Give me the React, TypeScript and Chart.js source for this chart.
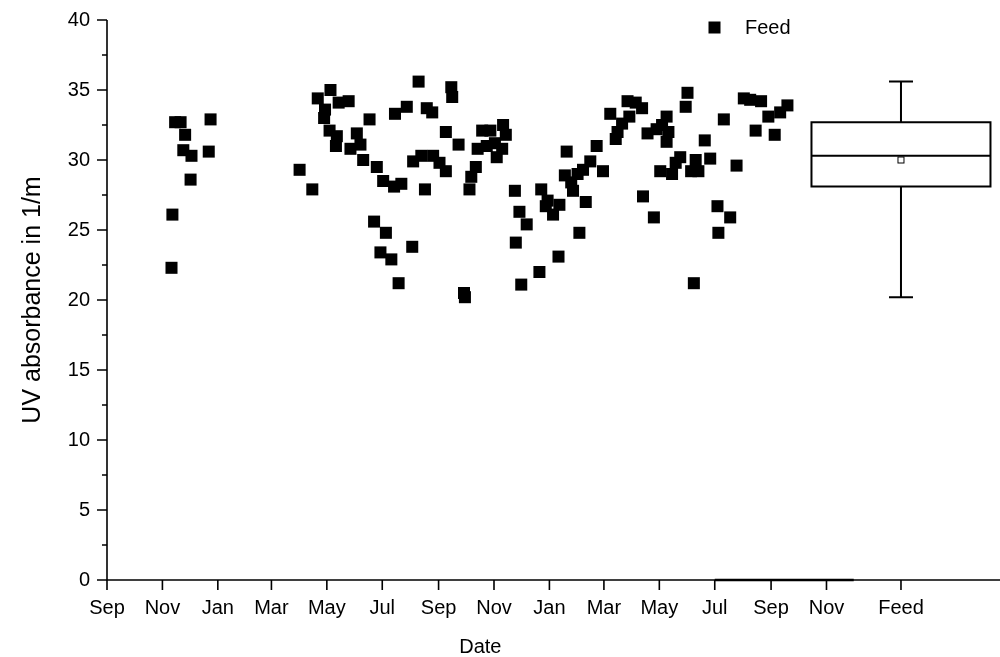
import React, { useEffect, useRef } from 'react';
import { Chart, registerables } from 'chart.js';

Chart.register(...registerables);

// ---------- data ----------
const START_DATE = '2006-09-01';

// sampling day, counted in days since START_DATE
const sampleDays = [
  71, 72, 75, 81, 84, 86, 92, 93, 112, 114,
  212, 226, 232, 240, 239, 246, 245, 253, 252, 255,
  266, 268, 275, 279, 282, 289, 294, 297, 301, 304,
  307, 313, 316, 324, 317, 321, 330, 336, 337, 343,
  346, 350, 352, 358, 359, 366, 373, 373, 379, 380,
  387, 393, 394, 399, 401, 406, 408, 413, 418, 422,
  427, 429, 435, 436, 439, 449, 450, 454, 456, 462,
  476, 478, 483, 485, 491, 498, 497, 504, 506, 511,
  513, 518, 520, 524, 527, 532, 539, 546, 554, 560,
  562, 567, 573, 575, 582, 589, 590, 595, 602, 605,
  609, 611, 616, 616, 618, 622, 626, 631, 637, 639,
  643, 646, 648, 651, 658, 664, 672, 673, 679, 686,
  693, 701, 708, 714, 720, 728, 735, 741, 749,
];

// UV absorbance of the feed (1/m)
const uvAbsorbance = [
  22.3, 26.1, 32.7, 32.7, 30.7, 31.8, 28.6, 30.3, 30.6, 32.9,
  29.3, 27.9, 34.4, 33.6, 33.0, 35.0, 32.1, 31.7, 31.0, 34.1,
  34.2, 30.8, 31.9, 31.1, 30.0, 32.9, 25.6, 29.5, 23.4, 28.5,
  24.8, 22.9, 28.1, 28.3, 33.3, 21.2, 33.8, 23.8, 29.9, 35.6,
  30.3, 27.9, 33.7, 33.4, 30.3, 29.8, 29.2, 32.0, 35.2, 34.5,
  31.1, 20.5, 20.2, 27.9, 28.8, 29.5, 30.8, 32.1, 31.0, 32.1,
  31.2, 30.2, 30.8, 32.5, 31.8, 27.8, 24.1, 26.3, 21.1, 25.4,
  22.0, 27.9, 26.7, 27.1, 26.1, 26.8, 23.1, 28.9, 30.6, 28.4,
  27.8, 29.0, 24.8, 29.3, 27.0, 29.9, 31.0, 29.2, 33.3, 31.5,
  32.0, 32.6, 34.2, 33.1, 34.1, 33.7, 27.4, 31.9, 25.9, 32.2,
  29.2, 32.5, 33.1, 31.3, 32.0, 29.0, 29.8, 30.2, 33.8, 34.8,
  29.2, 21.2, 30.0, 29.2, 31.4, 30.1, 26.7, 24.8, 32.9, 25.9,
  29.6, 34.4, 34.3, 32.1, 34.2, 33.1, 31.8, 33.4, 33.9,
];

const monthTickDates = [
  '2006-09-01', '2006-11-01', '2007-01-01', '2007-03-01', '2007-05-01', '2007-07-01',
  '2007-09-01', '2007-11-01', '2008-01-01', '2008-03-01', '2008-05-01', '2008-07-01',
  '2008-09-01', '2008-11-01',
];
const monthTickLabels = [
  'Sep', 'Nov', 'Jan', 'Mar', 'May', 'Jul',
  'Sep', 'Nov', 'Jan', 'Mar', 'May', 'Jul',
  'Sep', 'Nov',
];

const feedLabel = 'Feed';
// whisker low, Q1, median, Q3, whisker high
const feedBoxStats = [20.2, 28.1, 30.3, 32.7, 35.6];
const feedMean = [30.0];

const yTickValues = [0, 5, 10, 15, 20, 25, 30, 35, 40];

// ---------- layout ----------
const FONT = "'Liberation Sans', Arial, Helvetica, sans-serif";
const DATE_AXIS_END = '2008-12-01';
const FEED_SLOT = 874; // position of the "Feed" category on the x axis
const X_MAX = 983;

const toDay = (d: string) => (Date.parse(d) - Date.parse(START_DATE)) / 86400000;

const overlayPlugin = {
  id: 'overlay',
  afterDatasetsDraw(chart: any) {
    const { ctx, chartArea, scales } = chart;
    const x = scales.x;
    const y = scales.y;
    const L = chartArea.left;
    const B = chartArea.bottom;
    ctx.save();
    ctx.strokeStyle = '#000';
    ctx.fillStyle = '#000';
    ctx.lineCap = 'butt';

    // axis lines
    ctx.lineWidth = 1.6;
    ctx.beginPath();
    ctx.moveTo(L, chartArea.top);
    ctx.lineTo(L, B);
    ctx.lineTo(chartArea.right, B);
    ctx.stroke();
    // overlapping-layer segment of the x axis
    ctx.lineWidth = 2.6;
    ctx.beginPath();
    ctx.moveTo(x.getPixelForValue(toDay('2008-07-01')), B);
    ctx.lineTo(x.getPixelForValue(toDay(DATE_AXIS_END)), B);
    ctx.stroke();

    // y ticks (major + minor)
    ctx.lineWidth = 1.6;
    ctx.beginPath();
    for (let i = 0; i < yTickValues.length; i++) {
      const v = yTickValues[i];
      const py = y.getPixelForValue(v);
      ctx.moveTo(L - 10, py);
      ctx.lineTo(L, py);
      if (i < yTickValues.length - 1) {
        const pm = y.getPixelForValue((v + yTickValues[i + 1]) / 2);
        ctx.moveTo(L - 5, pm);
        ctx.lineTo(L, pm);
      }
    }
    // x ticks
    const xTicks = monthTickDates.map(toDay).concat([FEED_SLOT]);
    for (const v of xTicks) {
      const px = x.getPixelForValue(v);
      ctx.moveTo(px, B);
      ctx.lineTo(px, B + 10);
    }
    ctx.stroke();

    // box plot for feed
    const cx = x.getPixelForValue(FEED_SLOT);
    const halfW = 89.5;
    const capW = 12;
    const [lo, q1, med, q3, hi] = feedBoxStats.map((v) => y.getPixelForValue(v));
    ctx.lineWidth = 2;
    ctx.beginPath();
    ctx.rect(cx - halfW, q3, 2 * halfW, q1 - q3);
    ctx.moveTo(cx - halfW, med);
    ctx.lineTo(cx + halfW, med);
    ctx.moveTo(cx, q3);
    ctx.lineTo(cx, hi);
    ctx.moveTo(cx - capW, hi);
    ctx.lineTo(cx + capW, hi);
    ctx.moveTo(cx, q1);
    ctx.lineTo(cx, lo);
    ctx.moveTo(cx - capW, lo);
    ctx.lineTo(cx + capW, lo);
    ctx.stroke();
    const pmean = y.getPixelForValue(feedMean[0]);
    ctx.lineWidth = 1;
    ctx.fillStyle = '#fff';
    ctx.fillRect(cx - 3, pmean - 3, 6, 6);
    ctx.strokeRect(cx - 3, pmean - 3, 6, 6);

    // legend
    ctx.fillStyle = '#000';
    ctx.fillRect(708.5, 21.5, 12, 12);
    ctx.font = `20px ${FONT}`;
    ctx.textAlign = 'left';
    ctx.textBaseline = 'middle';
    ctx.fillText(feedLabel, 745, 28);

    // x axis title, centred on the date layer
    const dateEnd = x.getPixelForValue(toDay(DATE_AXIS_END));
    ctx.textAlign = 'center';
    ctx.textBaseline = 'middle';
    ctx.fillText('Date', (L + dateEnd) / 2, 647);
    ctx.restore();
  },
};

const zeroPadding = (scale: any) => {
  scale.paddingTop = 0;
  scale.paddingBottom = 0;
  scale.paddingLeft = 0;
  scale.paddingRight = 0;
};

export default function App() {
  const ref = useRef<HTMLCanvasElement | null>(null);

  useEffect(() => {
    document.body.style.margin = '0';
    const canvas = ref.current;
    if (!canvas) return;
    const points = sampleDays.map((d, i) => ({ x: d, y: uvAbsorbance[i] }));
    const xTickValues = monthTickDates.map(toDay).concat([FEED_SLOT]);
    const xTickLabels = monthTickLabels.concat([feedLabel]);

    const chart = new Chart(canvas, {
      type: 'scatter',
      data: {
        datasets: [
          {
            label: feedLabel,
            data: points,
            pointStyle: 'rect',
            pointRadius: 8.5,
            pointHoverRadius: 8.5,
            backgroundColor: '#000',
            borderColor: '#000',
            borderWidth: 0,
          },
        ],
      },
      options: {
        animation: false,
        responsive: false,
        devicePixelRatio: 1,
        layout: { autoPadding: false, padding: { top: 20, right: 0, bottom: 0, left: 0 } },
        plugins: {
          legend: { display: false },
          tooltip: { enabled: false },
        },
        scales: {
          x: {
            type: 'linear',
            min: 0,
            max: X_MAX,
            grid: { display: false, drawTicks: false },
            border: { display: false },
            afterBuildTicks: (scale: any) => {
              scale.ticks = xTickValues.map((value) => ({ value }));
            },
            afterFit: (scale: any) => {
              scale.height = 77;
              zeroPadding(scale);
            },
            ticks: {
              autoSkip: false,
              maxRotation: 0,
              minRotation: 0,
              padding: 16,
              color: '#000',
              font: { family: FONT, size: 20 },
              callback: (_v: any, index: number) => xTickLabels[index],
            },
          },
          y: {
            type: 'linear',
            min: 0,
            max: 40,
            grid: { display: false, drawTicks: false },
            border: { display: false },
            afterBuildTicks: (scale: any) => {
              scale.ticks = yTickValues.map((value) => ({ value }));
            },
            afterFit: (scale: any) => {
              scale.width = 107;
              zeroPadding(scale);
            },
            ticks: {
              padding: 17,
              color: '#000',
              font: { family: FONT, size: 20 },
              callback: (v: any) => String(v),
            },
            title: {
              display: true,
              text: 'UV absorbance in 1/m',
              color: '#000',
              font: { family: FONT, size: 25 },
              padding: { top: 18, bottom: 0 },
            },
          },
        },
      },
      plugins: [overlayPlugin],
    });
    return () => chart.destroy();
  }, []);

  return (
    <div style={{ width: 1000, height: 657, position: 'relative', background: '#fff' }}>
      <canvas ref={ref} width={1000} height={657} style={{ display: 'block' }} />
    </div>
  );
}
